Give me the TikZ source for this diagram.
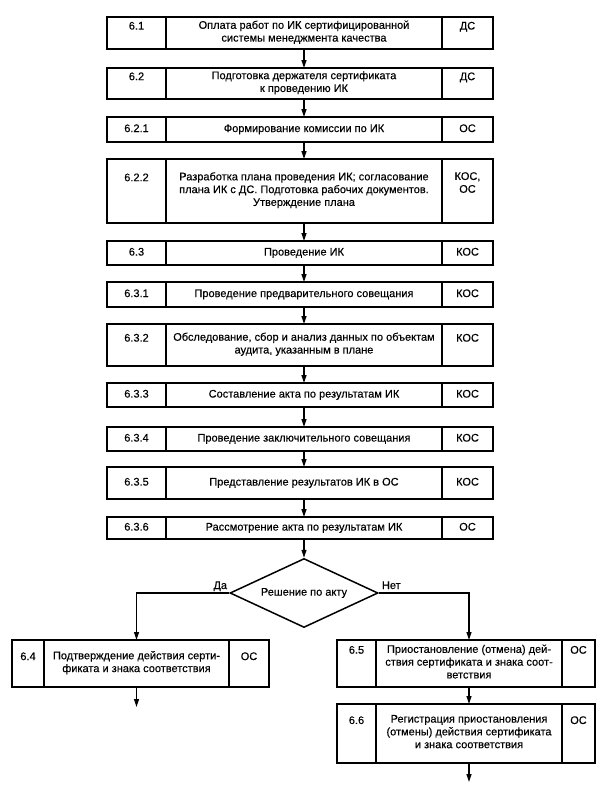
\documentclass[tikz,border=0pt]{standalone}
\usepackage{fontspec}
\setmainfont{Liberation Sans}[FakeBold=0.3]
\usetikzlibrary{arrows.meta,shapes.geometric}
\newcommand\setcols[4]{\def\cxL{#1}\def\cxA{#2}\def\cxB{#3}\def\cxR{#4}}
\newcommand\flowrow[6]{%
  \node[cell, minimum width={\cxA-\cxL}, minimum height={#3-#2}] (#1n) at ({(\cxL+\cxA)/2},{(#2+#3)/2}) {};
  \node[cell, minimum width={\cxB-\cxA}, minimum height={#3-#2}] (#1) at ({(\cxA+\cxB)/2},{(#2+#3)/2}) {};
  \node[cell, minimum width={\cxR-\cxB}, minimum height={#3-#2}] (#1w) at ({(\cxB+\cxR)/2},{(#2+#3)/2}) {};
  \node[txt] (#1t) at (#1.center) {#5};
  \node[txt, anchor=north] (#1nt) at (#1n.center |- #1t.north) {#4};
  \node[txt, anchor=north] (#1wt) at (#1w.center |- #1t.north) {#6};
}
\begin{document}
\begin{tikzpicture}[x=1pt,y=-1pt,
  cell/.style={draw, line width=1.5pt, rectangle, inner sep=0pt, outer sep=0pt},
  txt/.style={align=center, inner sep=0pt, font=\fontsize{11}{12.8}\selectfont,
    execute at begin node=\strut, execute at end node=\strut},
  arr/.style={line width=1.2pt, -{Triangle[length=8pt,width=5pt]}},
  dia/.style={draw, diamond, line width=1.5pt, inner sep=0pt, aspect=2.15,
    minimum width=148pt, minimum height=69pt, font=\fontsize{11}{12.8}\selectfont}]
\fill[white] (0,0) rectangle (610,790);
\useasboundingbox (0,0) rectangle (610,790);
\setcols{107}{166}{442}{493}
\flowrow{r61}{17}{49}{6.1}{Оплата работ по ИК сертифицированной\\системы менеджмента качества}{ДС}
\flowrow{r62}{68}{99}{6.2}{Подготовка держателя сертификата\\к проведению ИК}{ДС}
\flowrow{r621}{117}{142}{6.2.1}{Формирование комиссии по ИК}{ОС}
\flowrow{r622}{159}{223}{6.2.2}{Разработка плана проведения ИК; согласование\\плана ИК с ДС. Подготовка рабочих документов.\\Утверждение плана}{КОС,\\ОС}
\flowrow{r63}{241}{265}{6.3}{Проведение ИК}{КОС}
\flowrow{r631}{282}{307}{6.3.1}{Проведение предварительного совещания}{КОС}
\flowrow{r632}{324}{366}{6.3.2}{Обследование, сбор и анализ данных по объектам\\аудита, указанным в плане}{КОС}
\flowrow{r633}{383}{407}{6.3.3}{Составление акта по результатам ИК}{КОС}
\flowrow{r634}{427}{451}{6.3.4}{Проведение заключительного совещания}{КОС}
\flowrow{r635}{467}{499}{6.3.5}{Представление результатов ИК в ОС}{КОС}
\flowrow{r636}{517}{539}{6.3.6}{Рассмотрение акта по результатам ИК}{ОС}
\node[dia] (dec) at (304,593) {Решение по акту};
\setcols{12}{44}{229}{269}
\flowrow{r64}{640}{687}{6.4}{Подтверждение действия серти-\\фиката и знака соответствия}{ОС}
\setcols{337}{376}{562}{595}
\flowrow{r65}{640}{687}{6.5}{Приостановление (отмена) дей-\\ствия сертификата и знака соот-\\ветствия}{ОС}
\flowrow{r66}{704}{763}{6.6}{Регистрация приостановления\\(отмены) действия сертификата\\и знака соответствия}{ОС}
\draw[arr] (r61) -- (r62);
\draw[arr] (r62) -- (r621);
\draw[arr] (r621) -- (r622);
\draw[arr] (r622) -- (r63);
\draw[arr] (r63) -- (r631);
\draw[arr] (r631) -- (r632);
\draw[arr] (r632) -- (r633);
\draw[arr] (r633) -- (r634);
\draw[arr] (r634) -- (r635);
\draw[arr] (r635) -- (r636);
\draw[arr] (r636) -- (dec);
\draw[arr] (dec.west) -| (r64);
\draw[arr] (dec.east) -| (r65);
\draw[arr] (r65) -- (r66);
\coordinate (e64) at ([yshift=-20pt]r64.south);
\coordinate (e66) at ([yshift=-19pt]r66.south);
\draw[arr] (r64) -- (e64);
\draw[arr] (r66) -- (e66);
\node[txt, anchor=base east] (da) at ([xshift=-2pt,yshift=4pt]dec.west) {Да};
\node[txt, anchor=base west] (net) at ([xshift=3pt,yshift=4pt]dec.east) {Нет};
\end{tikzpicture}
\end{document}
